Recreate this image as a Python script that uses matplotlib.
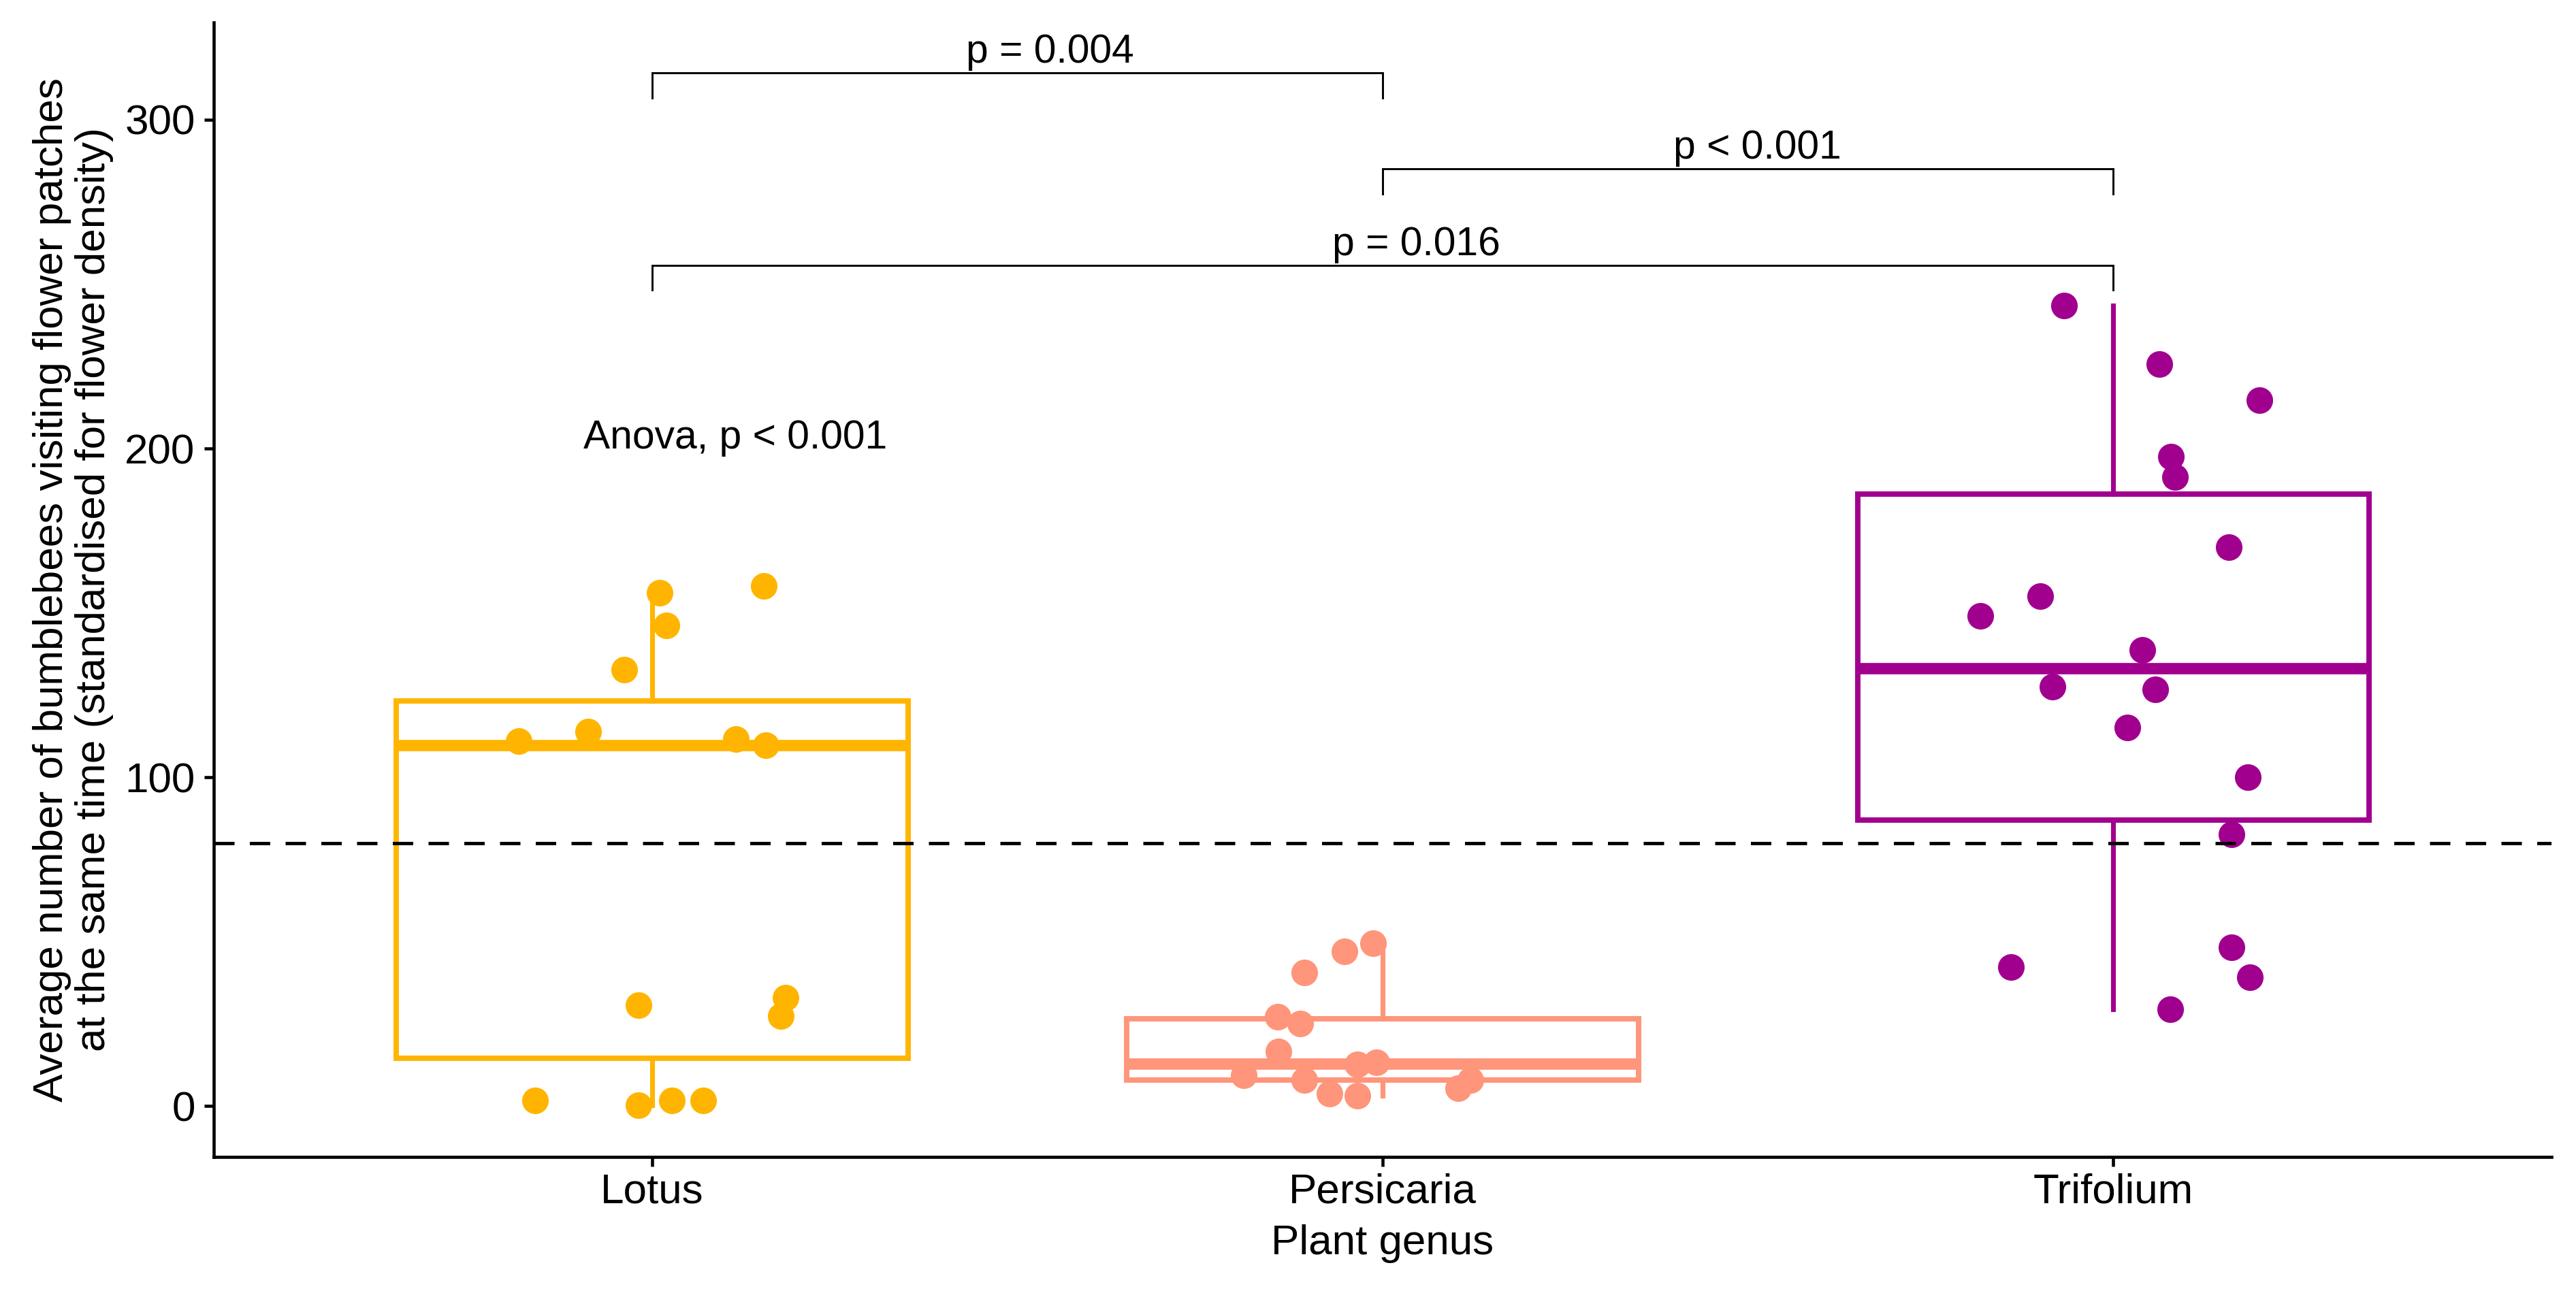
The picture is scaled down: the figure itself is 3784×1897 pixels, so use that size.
import matplotlib
matplotlib.use("Agg")
import matplotlib.pyplot as plt

plt.rcParams['font.family'] = ['Liberation Sans', 'DejaVu Sans']
FS = 14.9       # axis text
FS_LABEL = 14.1 # annotation text

# Genera and colours
GENERA = ["Lotus", "Persicaria", "Trifolium"]
COLORS = {"Lotus": "#FFB500", "Persicaria": "#FF957A", "Trifolium": "#A1008E"}

# Values (bumblebees per patch, standardised)
lotus = [146.2, 132.7, 111.0, 113.9, 111.7, 109.7, 30.6, 33.0, 27.3,
         1.7, 0.3, 1.7, 1.7, 156.2, 158.2]
lotus_jitter = [0.02, -0.038, -0.183, -0.088, 0.115, 0.156, -0.019, 0.183, 0.176,
                -0.16, -0.019, 0.027, 0.07, 0.01, 0.153]

persicaria = [49.5, 47.0, 40.6, 27.1, 25.1, 16.6, 9.3, 7.9, 12.6, 13.2,
              3.7, 3.1, 5.4, 7.9]
persicaria_jitter = [-0.013, -0.052, -0.107, -0.144, -0.113, -0.143, -0.19, -0.107,
                     -0.035, -0.008, -0.073, -0.035, 0.103, 0.12]

trifolium = [243.4, 225.7, 214.8, 197.6, 191.4, 170.0, 155.0, 149.0, 138.7,
             127.5, 126.7, 115.2, 100.0, 82.6, 48.2, 42.2, 39.1, 29.4]
trifolium_jitter = [-0.067, 0.063, 0.2, 0.079, 0.085, 0.158, -0.1, -0.182, 0.04,
                    -0.083, 0.058, 0.019, 0.184, 0.162, 0.162, -0.14, 0.187, 0.078]

VALUES = [lotus, persicaria, trifolium]
JITTER = [lotus_jitter, persicaria_jitter, trifolium_jitter]

OVERALL_MEAN = 80
# pairwise comparisons: (group a, group b, bracket height, label, label x)
COMPARISONS = [
    (1, 2, 314.2, "p = 0.004", 1.545),
    (2, 3, 285.0, "p < 0.001", 2.513),
    (1, 3, 255.8, "p = 0.016", 2.046),
]
ANOVA_LABEL = "Anova, p < 0.001"

# ================================================================

fig = plt.figure(figsize=(3784 / 300, 1897 / 300), dpi=300)
ax = fig.add_axes([0.083, 0.1038, 0.9075, 0.8788])

for i, (name, vals) in enumerate(zip(GENERA, VALUES)):
    c = COLORS[name]
    ax.boxplot(
        vals, positions=[i + 1], widths=0.7, whis=1.5,
        showfliers=False, patch_artist=True,
        boxprops=dict(facecolor="white", edgecolor=c, linewidth=1.9, joinstyle="miter"),
        whiskerprops=dict(color=c, linewidth=1.7),
        capprops=dict(linewidth=0),
        medianprops=dict(color=c, linewidth=4.0, solid_capstyle="butt"),
        zorder=2,
    )
    xs = [i + 1 + j for j in JITTER[i]]
    ax.scatter(xs, vals, s=88, color=c, linewidths=0, zorder=3)

# overall mean
ax.axhline(OVERALL_MEAN, color="black", lw=1.2, dashes=(6, 4.5), zorder=4)

# brackets
for a, b, y, label, tx in COMPARISONS:
    ax.plot([a, a, b, b], [y - 7.6, y, y, y - 7.6], color="black", lw=0.7,
            solid_joinstyle="miter", zorder=4)
    ax.text(tx, y + 3.1, label, ha="center", va="baseline", fontsize=FS_LABEL)

ax.text(0.906, 200, ANOVA_LABEL, ha="left", va="baseline", fontsize=FS_LABEL)

ax.set_xlim(0.4, 3.6)
ax.set_ylim(-15.5, 329.6)
ax.set_xticks([1, 2, 3])
ax.set_xticklabels(GENERA)
ax.set_yticks([0, 100, 200, 300])

for s in ["top", "right"]:
    ax.spines[s].set_visible(False)
for s in ["left", "bottom"]:
    ax.spines[s].set_linewidth(1.1)
ax.tick_params(axis="both", labelsize=FS, width=1.1, length=3.4, color="black",
               labelcolor="black")
ax.tick_params(axis="x", pad=2.2)
ax.tick_params(axis="y", pad=3.2)

ax.set_xlabel("Plant genus", fontsize=FS, labelpad=4.5)
ax.set_ylabel("Average number of bumblebees visiting flower patches\n"
              "at the same time (standardised for flower density)",
              fontsize=FS, labelpad=4, linespacing=1.1)

fig.savefig("out.png", dpi=300)
